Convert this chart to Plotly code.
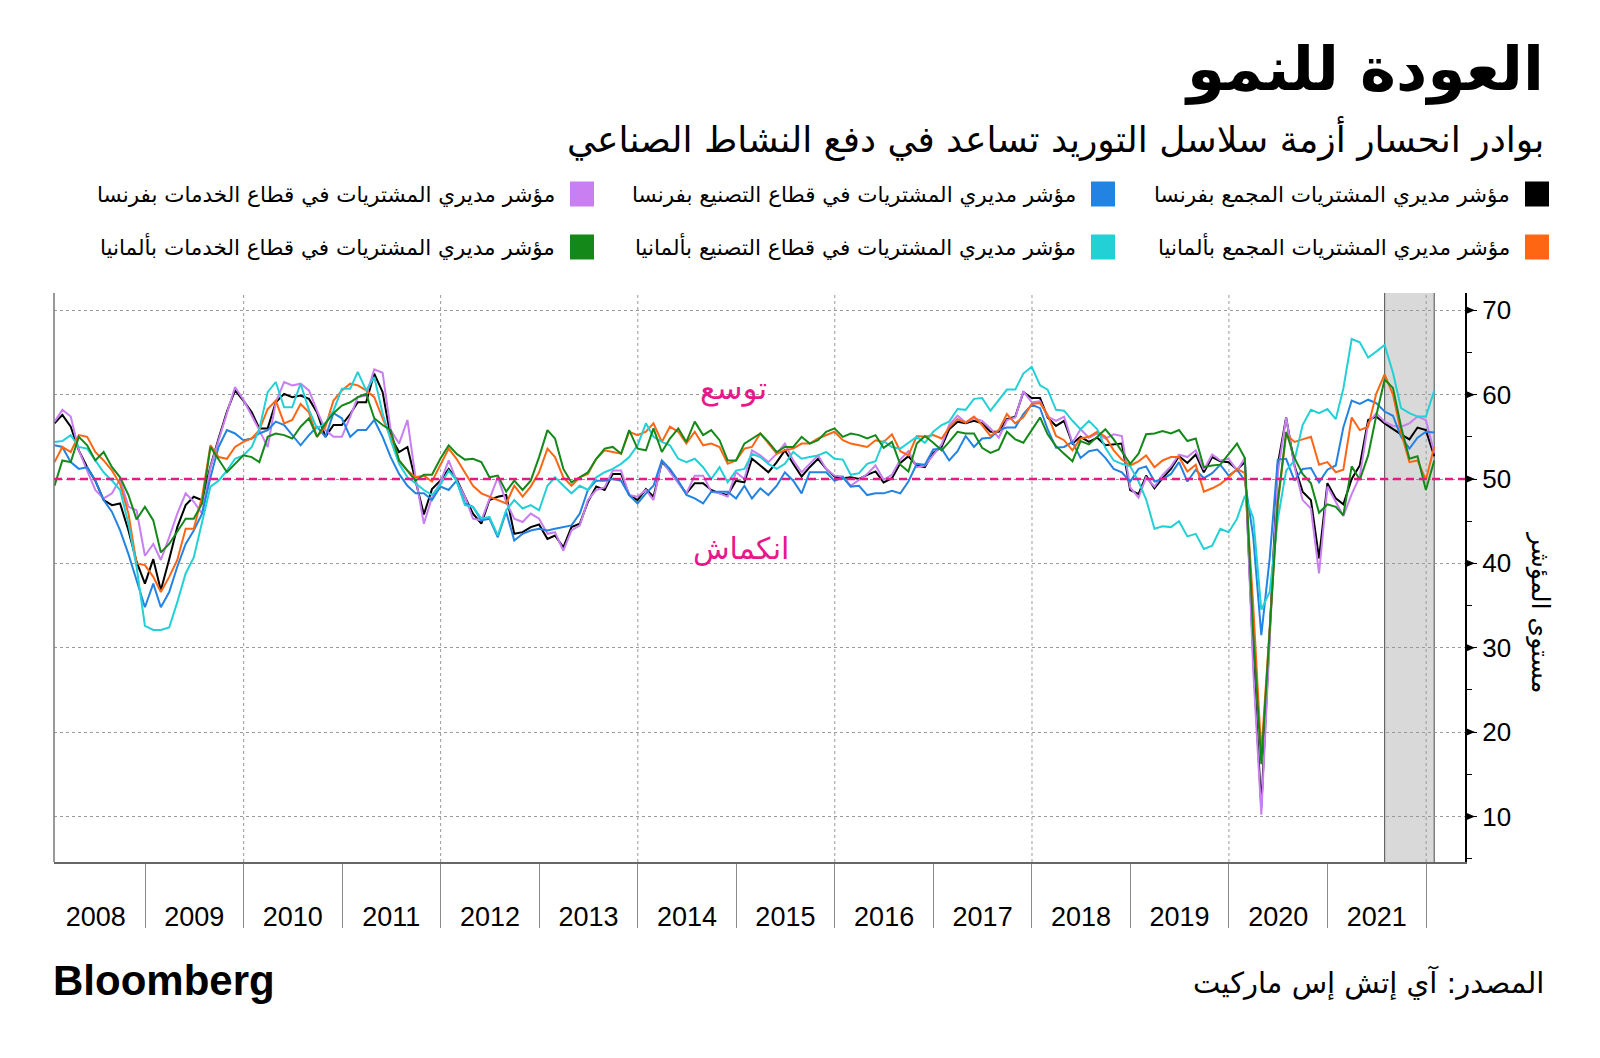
import plotly.graph_objects as go
import pandas as pd

# ---------------- data (monthly, Jan 2008 - Jan 2022) ----------------
start_month = "2008-02-01"
n_months = 169

france_composite = [
    56.6, 57.6, 56.2, 53.4, 51.4, 49.8, 47.5, 46.9, 47.1, 43.9, 40.2, 37.6,
    40.5, 36.8, 40.5, 44.3, 46.9, 47.9, 47.5, 51.5, 54.8, 58.0, 60.5, 59.3,
    57.9, 56.0, 56.0, 59.1, 60.1, 59.7, 59.9, 59.5, 57.9, 55.0, 56.4, 56.4,
    57.7, 59.1, 59.1, 62.5, 60.3, 55.0, 53.2, 53.8, 49.8, 45.8, 48.8, 49.8,
    51.2, 50.0, 47.9, 45.9, 44.7, 47.5, 47.9, 48.1, 43.5, 43.7, 44.3, 44.6,
    42.9, 43.3, 41.9, 44.3, 44.7, 47.3, 49.1, 48.7, 50.6, 50.6, 48.1, 47.5,
    48.8, 47.9, 52.0, 51.0, 49.6, 48.3, 49.5, 49.5, 48.7, 48.3, 48.1, 49.8,
    49.6, 52.4, 51.6, 50.8, 52.0, 53.4, 51.8, 50.3, 51.4, 52.4, 51.2, 50.3,
    50.1, 50.2, 50.0, 50.5, 50.9, 49.6, 50.1, 51.9, 52.7, 51.6, 51.4, 53.1,
    53.8, 55.9, 56.8, 56.6, 56.9, 56.6, 55.6, 55.6, 57.1, 57.4, 60.3, 59.6,
    59.6, 57.3, 56.3, 56.9, 54.2, 55.0, 54.4, 54.9, 54.0, 54.1, 54.2, 48.7,
    48.2, 50.4, 48.9, 50.1, 51.2, 52.7, 51.9, 52.9, 50.8, 52.6, 52.1, 52.0,
    51.1, 52.0, 28.9, 11.1, 32.1, 51.7, 57.3, 51.6, 48.5, 47.5, 40.6, 49.5,
    47.7, 47.0, 50.0, 51.6, 57.0, 57.4, 56.6, 55.9, 55.3, 54.7, 56.1, 55.8,
    52.7,
]

france_manufacturing = [
    54.0, 53.8, 52.0, 51.2, 51.4, 49.8, 47.5, 46.1, 43.9, 41.1, 38.0, 34.8,
    37.6, 34.8, 36.6, 39.6, 42.3, 43.9, 45.9, 50.2, 53.8, 55.8, 55.4, 54.6,
    54.8, 55.4, 55.8, 56.8, 56.4, 55.2, 54.0, 55.2, 56.2, 55.0, 57.8, 57.2,
    55.0, 55.8, 55.8, 57.0, 55.0, 52.6, 50.6, 49.2, 48.3, 48.3, 47.5, 49.1,
    48.7, 49.8, 47.1, 46.7, 45.1, 45.3, 43.1, 46.1, 42.7, 43.5, 43.9, 44.1,
    43.9, 44.1, 44.3, 44.5, 45.9, 48.7, 49.8, 49.8, 50.0, 49.8, 48.1, 47.1,
    48.3, 49.2, 52.2, 51.2, 49.8, 48.1, 47.7, 47.1, 48.5, 48.5, 48.5, 47.7,
    49.2, 47.7, 48.9, 48.1, 49.2, 50.8, 49.8, 48.3, 50.8, 50.8, 50.8, 49.8,
    50.2, 49.1, 49.2, 48.1, 48.3, 48.3, 48.6, 48.3, 49.7, 51.8, 51.7, 53.5,
    53.6, 52.2, 53.3, 55.1, 53.8, 54.8, 54.9, 55.8, 56.1, 56.1, 57.7, 58.8,
    58.4, 55.9, 53.7, 53.8, 54.4, 52.5, 53.3, 53.5, 52.5, 51.2, 50.8, 49.7,
    51.2, 51.5, 49.7, 50.0, 50.6, 52.0, 49.7, 51.1, 50.1, 50.7, 51.7, 50.4,
    51.1, 49.8, 43.2, 31.5, 40.6, 52.3, 52.4, 49.8, 51.2, 51.3, 49.6, 51.1,
    51.6, 56.1, 59.3, 58.9, 59.4, 59.0, 58.0, 57.5, 55.0, 53.6, 54.9, 55.6,
    55.5,
]

france_services = [
    56.8, 58.2, 57.4, 53.4, 51.0, 48.7, 47.7, 48.3, 50.0, 46.7, 46.3, 40.9,
    42.3, 40.4, 43.1, 45.9, 48.3, 47.3, 45.9, 51.4, 54.6, 57.8, 60.9, 59.4,
    57.6, 55.8, 53.8, 59.1, 61.5, 61.1, 61.3, 60.5, 58.1, 55.8, 55.0, 55.0,
    57.4, 59.7, 59.9, 63.0, 62.6, 55.8, 54.2, 57.0, 50.2, 44.7, 47.8, 49.6,
    52.2, 49.8, 47.9, 45.3, 45.1, 47.5, 50.2, 47.3, 45.3, 44.9, 45.9, 45.3,
    43.5, 43.7, 41.5, 43.9, 44.5, 47.5, 48.7, 49.0, 51.0, 51.0, 48.1, 47.9,
    48.7, 47.5, 52.2, 50.8, 49.6, 48.3, 50.4, 50.4, 48.5, 48.3, 47.9, 50.8,
    50.0, 53.4, 52.8, 52.0, 53.0, 54.2, 52.2, 50.8, 51.8, 52.8, 51.2, 50.4,
    50.3, 49.2, 49.9, 50.6, 51.6, 49.9, 50.5, 52.3, 53.3, 51.4, 51.6, 52.9,
    54.1, 56.4, 57.5, 56.7, 57.2, 56.9, 56.0, 54.9, 57.0, 57.3, 60.4, 59.1,
    59.2, 57.4, 56.9, 57.4, 54.3, 55.9, 54.9, 55.4, 54.8, 55.3, 55.1, 49.0,
    47.8, 50.2, 49.1, 50.5, 51.5, 52.9, 52.6, 53.4, 51.1, 52.9, 52.2, 52.4,
    51.0, 52.5, 27.4, 10.2, 31.1, 50.7, 57.3, 51.5, 47.5, 46.5, 38.8, 49.1,
    47.3, 45.6, 48.2, 50.3, 56.6, 57.8, 56.8, 56.3, 56.2, 56.6, 57.4, 57.0,
    53.1,
]

germany_composite = [
    52.0, 53.8, 53.2, 55.2, 55.0, 53.2, 52.2, 51.0, 49.4, 45.9, 40.0, 39.8,
    38.4, 36.6, 38.4, 40.4, 44.1, 44.1, 47.9, 54.0, 52.6, 52.4, 53.8, 54.4,
    54.8, 55.8, 58.3, 59.3, 56.6, 57.0, 58.9, 57.9, 55.0, 56.2, 59.3, 60.5,
    61.3, 61.1, 60.5, 59.7, 57.2, 55.0, 52.2, 51.0, 50.2, 50.4, 49.7, 51.6,
    53.6, 52.4, 50.8, 49.2, 48.3, 47.9, 47.5, 47.1, 49.2, 47.9, 49.1, 50.8,
    53.6, 52.6, 50.2, 49.2, 50.2, 50.6, 52.4, 53.4, 53.2, 53.0, 55.6, 55.2,
    55.6, 56.6, 54.4, 56.2, 55.6, 54.2, 55.6, 54.0, 54.2, 53.8, 51.8, 52.2,
    53.6, 53.8, 55.4, 54.2, 53.0, 53.4, 53.6, 54.2, 54.2, 54.8, 55.2, 55.6,
    54.6, 54.2, 54.0, 53.8, 54.6, 54.4, 55.3, 53.3, 52.8, 55.1, 55.0, 55.2,
    54.8, 56.1, 57.1, 56.7, 57.4, 56.4, 55.1, 55.8, 57.7, 56.6, 57.3, 58.9,
    59.0, 57.6, 55.1, 54.6, 53.4, 54.8, 55.0, 55.6, 55.0, 53.4, 52.3, 51.6,
    52.1, 52.8, 51.4, 52.2, 52.6, 52.6, 50.9, 51.7, 48.5, 48.9, 49.4, 50.2,
    51.2, 50.7, 35.0, 17.4, 32.3, 47.0, 55.3, 54.4, 54.7, 55.0, 51.7, 52.0,
    50.8, 51.1, 57.3, 55.8, 56.2, 60.1, 62.4, 60.0, 55.5, 52.0, 52.2, 49.9,
    53.8,
]

germany_manufacturing = [
    54.4, 54.5, 55.2, 53.8, 53.6, 52.2, 50.8, 49.8, 48.7, 44.7, 39.6, 32.6,
    32.1, 32.1, 32.4, 35.4, 38.8, 40.7, 45.1, 49.1, 49.8, 51.0, 52.4, 52.8,
    53.8, 55.9, 60.3, 61.5, 58.5, 58.5, 61.3, 58.2, 56.0, 56.6, 58.1, 60.7,
    60.7, 62.7, 60.5, 62.1, 57.8, 54.6, 51.8, 50.2, 49.5, 48.7, 48.1, 49.3,
    51.0, 49.8, 46.9, 46.7, 45.3, 45.5, 43.3, 46.3, 47.5, 46.5, 46.9, 46.3,
    49.2, 50.2, 49.2, 48.3, 49.2, 48.7, 50.2, 50.8, 51.2, 51.8, 52.6, 54.0,
    56.6, 55.0, 54.4, 54.0, 52.4, 52.0, 52.4, 51.4, 50.0, 51.4, 49.6, 51.0,
    51.2, 53.0, 52.6, 51.8, 51.2, 51.8, 53.2, 52.4, 52.6, 52.8, 53.2, 52.4,
    52.3, 50.5, 50.7, 51.8, 52.1, 54.5, 53.8, 53.6, 54.3, 55.0, 54.3, 55.6,
    56.4, 56.8, 58.3, 58.2, 59.5, 59.6, 58.1, 59.3, 60.6, 60.6, 62.5, 63.3,
    61.1, 60.6, 58.2, 58.1, 56.9, 55.9, 56.9, 55.9, 53.7, 52.2, 51.8, 51.5,
    49.7, 47.6, 44.1, 44.4, 44.3, 45.0, 43.2, 43.5, 41.7, 42.1, 44.1, 43.7,
    45.3, 48.0, 45.4, 34.5, 36.6, 45.2, 51.0, 52.2, 56.4, 58.2, 57.8, 58.3,
    57.1, 60.7, 66.6, 66.2, 64.4, 65.1, 65.9, 62.6, 58.4, 57.8, 57.4, 57.4,
    60.5,
]

germany_services = [
    49.2, 52.2, 52.0, 55.0, 54.0, 52.2, 53.2, 51.4, 50.2, 48.1, 45.2, 46.7,
    45.1, 41.3, 42.3, 43.7, 45.3, 45.3, 47.1, 53.8, 52.4, 50.8, 51.8, 52.8,
    52.6, 52.0, 55.0, 55.4, 55.2, 54.8, 56.2, 57.2, 55.0, 56.6, 57.8, 58.7,
    59.1, 59.7, 60.1, 57.2, 56.4, 55.8, 52.2, 51.0, 49.8, 50.5, 50.5, 52.4,
    54.0, 53.0, 52.3, 52.4, 52.0, 50.2, 50.4, 48.5, 49.8, 48.7, 49.8, 52.6,
    55.8, 54.8, 51.2, 49.6, 50.2, 50.8, 52.4, 53.6, 53.8, 53.0, 55.8, 53.6,
    53.4, 56.0, 53.2, 54.8, 56.0, 54.4, 56.8, 55.2, 55.8, 54.6, 52.2, 52.2,
    54.2, 54.8, 55.4, 54.4, 53.2, 53.8, 53.8, 55.0, 54.2, 54.6, 55.6, 56.0,
    55.0, 55.4, 55.2, 54.8, 55.2, 53.7, 54.4, 51.7, 50.9, 54.2, 55.1, 54.3,
    53.4, 54.4, 55.6, 55.4, 55.4, 53.7, 53.1, 53.5, 55.6, 54.7, 54.3, 55.8,
    57.3, 55.3, 53.9, 53.0, 52.1, 54.5, 54.1, 55.0, 55.9, 54.7, 53.3, 51.8,
    53.0, 55.3, 55.4, 55.7, 55.4, 55.8, 54.5, 54.8, 51.4, 51.6, 51.7, 52.9,
    54.2, 52.5, 31.7, 16.2, 32.6, 47.3, 55.6, 52.5, 50.6, 49.5, 46.0, 47.0,
    46.7, 45.7, 51.5, 49.9, 52.8, 57.5, 61.8, 60.8, 56.2, 52.4, 52.7, 48.7,
    52.2,
]

series_names = [
    "مؤشر مديري المشتريات المجمع بفرنسا",
    "مؤشر مديري المشتريات في قطاع التصنيع بفرنسا",
    "مؤشر مديري المشتريات في قطاع الخدمات بفرنسا",
    "مؤشر مديري المشتريات المجمع بألمانيا",
    "مؤشر مديري المشتريات في قطاع التصنيع بألمانيا",
    "مؤشر مديري المشتريات في قطاع الخدمات بألمانيا",
]
series_values = [france_composite, france_manufacturing, france_services,
                 germany_composite, germany_manufacturing, germany_services]
series_colors = ["#000000", "#2383e2", "#c97ef2", "#ff6614", "#22d0d6", "#14891a"]

year_labels = [str(y) for y in range(2008, 2022)]
y_ticks = [10, 20, 30, 40, 50, 60, 70]
threshold = 50
highlight_start, highlight_end = "2021-07-31", "2022-01-31"

title_text = "العودة للنمو"
subtitle_text = "بوادر انحسار أزمة سلاسل التوريد تساعد في دفع النشاط الصناعي"
source_text = "المصدر: آي إتش إس ماركيت"
y_title = "مستوى المؤشر"
expansion_text = "توسع"
contraction_text = "انكماش"

# ---------------- figure ----------------
dates = pd.date_range(start_month, periods=n_months, freq="MS") - pd.Timedelta(days=1)

W, H = 1600, 1058
ML, MR, MT, MB = 54, 135, 293, 196
PW, PH = W - ML - MR, H - MT - MB


def px(x):
    return (x - ML) / PW


def py(y):
    return (H - MB - y) / PH


AR = "DejaVu Sans"
fig = go.Figure()

draw_order = [0, 2, 1, 3, 4, 5]
for k in draw_order:
    fig.add_trace(go.Scatter(
        x=dates, y=series_values[k], mode="lines", name=series_names[k],
        line=dict(color=series_colors[k], width=2), showlegend=False,
    ))

shapes = []
# highlighted recent period
shapes.append(dict(type="rect", xref="x", yref="paper", x0=highlight_start, x1=highlight_end,
                   y0=0, y1=1, fillcolor="#d9d9d9", line=dict(width=0), layer="below"))
for xv in (highlight_start, highlight_end):
    shapes.append(dict(type="line", xref="x", yref="paper", x0=xv, x1=xv, y0=0, y1=1,
                       line=dict(color="#666666", width=1.2), layer="below"))
# vertical dotted grid every two years
for yr in range(2010, 2023, 2):
    shapes.append(dict(type="line", xref="x", yref="paper", x0=f"{yr}-01-01", x1=f"{yr}-01-01",
                       y0=0, y1=1, line=dict(color="#9a9a9a", width=1, dash="dot"), layer="below"))
# left frame line
shapes.append(dict(type="line", xref="paper", yref="paper", x0=0, x1=0, y0=0, y1=1,
                   line=dict(color="#777777", width=1.5)))
# 50 threshold
shapes.append(dict(type="line", xref="paper", yref="y", x0=0, x1=1, y0=threshold, y1=threshold,
                   line=dict(color="#e8178a", width=2.5, dash="8px,5px"), layer="above"))
# triangle tick markers on the right axis
tri_w = 10 / PW
for v in y_ticks:
    shapes.append(dict(type="path", xref="paper", yref="y",
                       path=f"M 1,{v - 0.5} L {1 + tri_w},{v} L 1,{v + 0.5} Z",
                       fillcolor="black", line=dict(width=0)))

# custom right-to-left legend
legend_cols_px = [1549, 1115, 594]  # swatch right edges
legend_rows_px = [194, 247]          # row centers
for idx, name in enumerate(series_names):
    row, col = divmod(idx, 3)
    sr = legend_cols_px[col]
    cy = legend_rows_px[row]
    shapes.append(dict(type="rect", xref="paper", yref="paper",
                       x0=px(sr - 24), x1=px(sr), y0=py(cy + 12.5), y1=py(cy - 12.5),
                       fillcolor=series_colors[idx], line=dict(width=0)))

annotations = []
for idx, name in enumerate(series_names):
    row, col = divmod(idx, 3)
    sr = legend_cols_px[col]
    cy = legend_rows_px[row]
    annotations.append(dict(text=name, xref="paper", yref="paper", x=px(sr - 37), y=py(cy),
                            xanchor="right", yanchor="middle", showarrow=False,
                            font=dict(family=AR, size=21.5, color="black")))

annotations += [
    dict(text=f"<b>{title_text}</b>", xref="paper", yref="paper", x=px(1546), y=py(69),
         xanchor="right", yanchor="middle", showarrow=False,
         font=dict(family=AR, size=61, color="black")),
    dict(text=subtitle_text, xref="paper", yref="paper", x=px(1546), y=py(138),
         xanchor="right", yanchor="middle", showarrow=False,
         font=dict(family=AR, size=36, color="black")),
    dict(text="<b>Bloomberg</b>", xref="paper", yref="paper", x=px(51), y=py(980),
         xanchor="left", yanchor="middle", showarrow=False,
         font=dict(family="Liberation Sans", size=42, color="black")),
    dict(text=source_text, xref="paper", yref="paper", x=px(1546), y=py(983),
         xanchor="right", yanchor="middle", showarrow=False,
         font=dict(family=AR, size=29, color="black")),
    dict(text=expansion_text, xref="paper", yref="paper", x=px(733), y=py(388),
         xanchor="center", yanchor="middle", showarrow=False,
         font=dict(family=AR, size=31, color="#e8178a")),
    dict(text=contraction_text, xref="paper", yref="paper", x=px(741), y=py(548),
         xanchor="center", yanchor="middle", showarrow=False,
         font=dict(family=AR, size=30, color="#e8178a")),
    dict(text=y_title, xref="paper", yref="paper", x=px(1541), y=py(612),
         xanchor="center", yanchor="middle", showarrow=False, textangle=90,
         font=dict(family=AR, size=25, color="black")),
]

fig.update_layout(
    width=W, height=H,
    margin=dict(l=ML, r=MR, t=MT, b=MB, pad=0),
    paper_bgcolor="white", plot_bgcolor="white",
    showlegend=False,
    shapes=shapes, annotations=annotations,
    xaxis=dict(
        type="date", range=["2008-01-29", "2022-05-25"],
        tickvals=[f"{y}-07-02" for y in year_labels], ticktext=year_labels,
        ticks="outside", ticklen=30, tickcolor="rgba(0,0,0,0)",
        tickfont=dict(family="Liberation Sans", size=27, color="black"),
        showgrid=False, zeroline=False,
        showline=True, linecolor="#666666", linewidth=1.5,
        minor=dict(tickvals=[f"{y}-01-01" for y in range(2009, 2023)],
                   ticks="outside", ticklen=64, tickcolor="#8a8a8a", tickwidth=1, showgrid=False),
    ),
    yaxis=dict(
        side="right", range=[4.6, 72.05],
        tickvals=y_ticks, ticktext=[str(v) for v in y_ticks],
        ticks="outside", ticklen=10, tickcolor="black", tickwidth=1,
        tickfont=dict(family="Liberation Sans", size=26, color="black"),
        showgrid=True, gridcolor="#9a9a9a", griddash="dot", gridwidth=1,
        zeroline=False, showline=True, linecolor="black", linewidth=2,
        minor=dict(tickvals=[5, 15, 25, 35, 45, 55, 65], ticks="outside", ticklen=5,
                   tickcolor="black", tickwidth=1, showgrid=False),
    ),
)

fig.write_html("out.html", config={"displayModeBar": False},
               post_script="document.body.style.margin='0px';document.body.style.padding='0px';")
